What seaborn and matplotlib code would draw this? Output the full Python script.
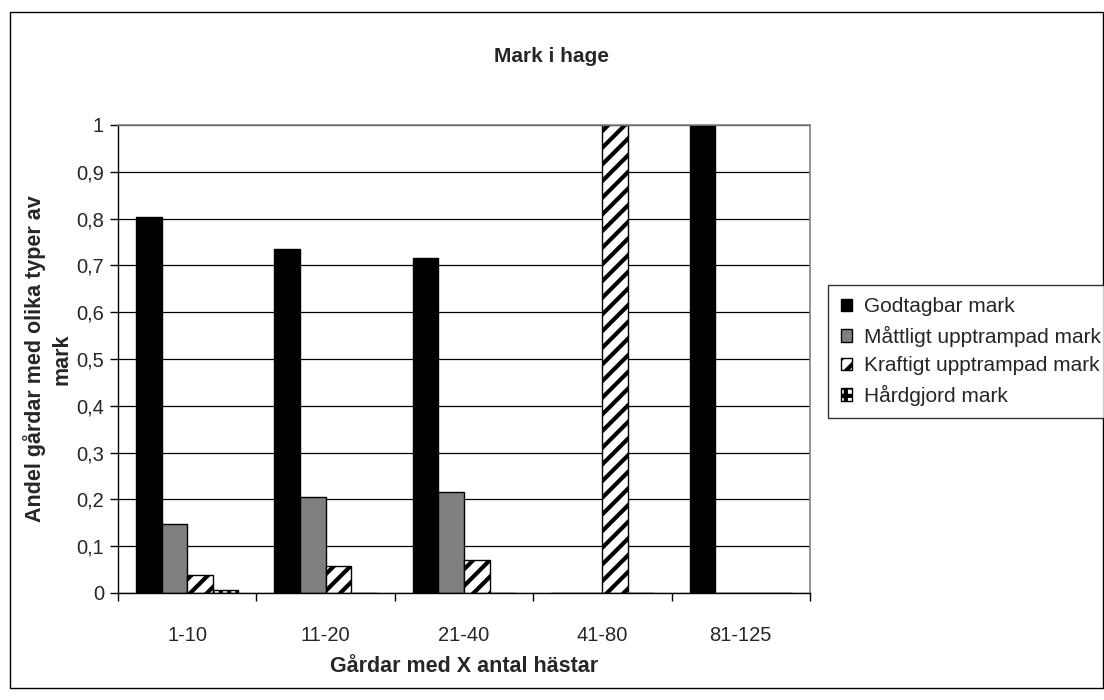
import pandas as pd
import matplotlib.pyplot as plt
import matplotlib.patches as mpatches
from matplotlib.ticker import FixedLocator
import seaborn as sns

# --- data ---
groups = ["1-10", "11-20", "21-40", "41-80", "81-125"]
series = ["Godtagbar mark", "Måttligt upptrampad mark",
          "Kraftigt upptrampad mark", "Hårdgjord mark"]
godtagbar = [0.803, 0.735, 0.716, 0.0, 1.0]
mattligt = [0.147, 0.205, 0.215, 0.0, 0.0]
kraftigt = [0.038, 0.058, 0.071, 1.0, 0.0]
hardgjord = [0.006, 0.0, 0.0, 0.0, 0.0]
y_ticks = [0, 0.1, 0.2, 0.3, 0.4, 0.5, 0.6, 0.7, 0.8, 0.9, 1.0]
y_tick_labels = ["0", "0,1", "0,2", "0,3", "0,4", "0,5",
                 "0,6", "0,7", "0,8", "0,9", "1"]

colors = ["#000000", "#808080", "#ffffff", "#ffffff"]
hatches = [None, None, "//", "++"]

rows = []
for name, vals in zip(series, [godtagbar, mattligt, kraftigt, hardgjord]):
    for g, v in zip(groups, vals):
        rows.append({"grupp": g, "andel": v, "serie": name})
df = pd.DataFrame(rows)

sns.set_style("white")
plt.rcParams['font.family'] = ['Liberation Sans', 'DejaVu Sans']
plt.rcParams['hatch.linewidth'] = 3.0

fig = plt.figure(figsize=(11.04, 7.0), dpi=100)
ax = fig.add_axes([118 / 1104, 1 - 593 / 700, 692 / 1104, 468 / 700])

sns.barplot(data=df, x="grupp", y="andel", hue="serie", order=groups,
            hue_order=series, palette=colors, saturation=1, width=0.74,
            edgecolor="black", linewidth=1, legend=False, ax=ax)

for cont, h in zip(ax.containers, hatches):
    for bar in cont:
        if h:
            bar.set_hatch(h)

ax.set_xlim(-0.5, len(groups) - 0.5)
ax.set_ylim(0, 1)
ax.set_yticks(y_ticks)
ax.set_yticklabels(y_tick_labels, fontsize=14.5)
ax.yaxis.grid(True, color="black", linewidth=0.9)
ax.set_axisbelow(True)

# Excel style: ticks between categories, labels without ticks
ax.tick_params(axis="x", which="major", length=0, pad=24, labelsize=14.5)
ax.xaxis.set_minor_locator(FixedLocator([i - 0.5 for i in range(len(groups) + 1)]))
ax.tick_params(axis="x", which="minor", length=6, width=1, color="black",
               direction="out", bottom=True)
ax.tick_params(axis="y", length=6, width=1, color="black", direction="out",
               left=True, pad=4)
ax.set_xlabel("")
ax.set_ylabel("")

for side in ["left", "bottom"]:
    ax.spines[side].set_color("black")
    ax.spines[side].set_linewidth(1)
for side in ["top", "right"]:
    ax.spines[side].set_visible(True)
    ax.spines[side].set_color("#808080")
    ax.spines[side].set_linewidth(1.2)

fig.text(0.5, 1 - 57 / 700, "Mark i hage", ha="center", va="center",
         fontsize=15, fontweight="bold")
fig.text(464 / 1104, 1 - 667 / 700, "Gårdar med X antal hästar",
         ha="center", va="center", fontsize=15.5, fontweight="bold")
fig.text(48 / 1104, 1 - 359 / 700, "Andel gårdar med olika typer av\nmark",
         ha="center", va="center", rotation=90, fontsize=15.5,
         fontweight="bold", multialignment="center", linespacing=1.35)

handles = [mpatches.Patch(facecolor=c, edgecolor="black", hatch=h, linewidth=1)
           for c, h in zip(colors, hatches)]
leg = fig.legend(handles, series, loc="upper left",
                 bbox_to_anchor=(828 / 1104, 1 - 285 / 700),
                 frameon=True, fancybox=False, fontsize=15,
                 handlelength=0.55, handleheight=0.55, handletextpad=0.6,
                 labelspacing=0.45, borderpad=0.6, borderaxespad=0)
leg.get_frame().set_edgecolor("black")
leg.get_frame().set_linewidth(1)

# outer chart frame
fig.patches.append(mpatches.Rectangle((10 / 1104, 1 - 688 / 700),
                                      1093 / 1104, 676 / 700,
                                      transform=fig.transFigure, fill=False,
                                      edgecolor="black", linewidth=1))

fig.savefig("out.png", dpi=100)
